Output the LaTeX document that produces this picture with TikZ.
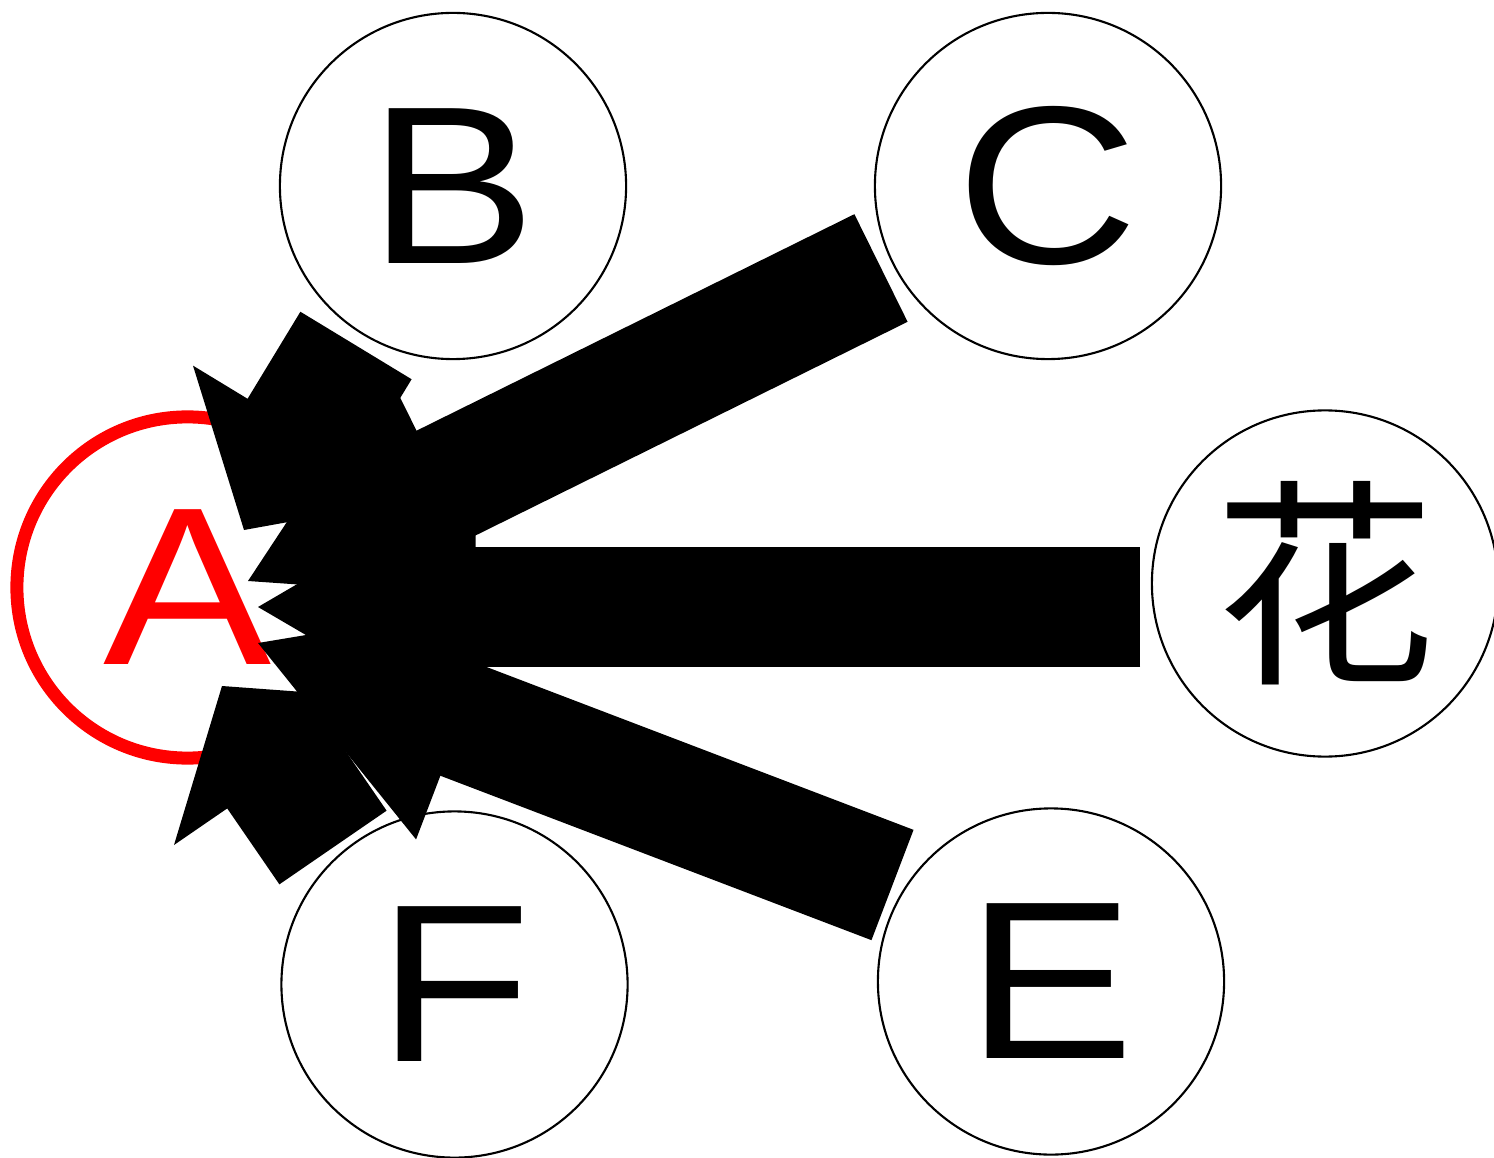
\documentclass[tikz,border=0pt]{standalone}
\usepackage{fontspec}
\usepackage{tikz}
\usetikzlibrary{calc}
\newfontfamily\lblfont[FakeStretch=1.12]{Liberation Sans}
\newfontfamily\cjkfont{Noto Sans CJK SC}
\definecolor{ringred}{RGB}{255,0,0}

\begin{document}
\begin{tikzpicture}[x=0.01cm, y=-0.01cm,
  vertex/.style={circle, draw, line width=0.6pt, minimum size=3.46cm, inner sep=0pt,
    font=\lblfont\fontsize{64}{64}\selectfont},
  shaft/.style={line cap=butt}]
  \useasboundingbox (0,0) rectangle (1494,1158);

  % Nodes
  \node[vertex, draw=ringred, text=ringred, line width=0.13cm, minimum size=3.41cm] (A) at (187.5,587.5) {A};
  \node[vertex] (B) at (453,186) {B};
  \node[vertex] (C) at (1048,186) {C};
  \node[vertex, font=\cjkfont\fontsize{63}{63}\selectfont] (H) at (1325,583.5) {花};
  \node[vertex] (E) at (1051,981.5) {E};
  \node[vertex] (F) at (454.5,984.5) {F};

  % Ends of the connectors
  \coordinate (C-out) at ($(C)+(-167,82)$);
  \coordinate (H-out) at ($(H)+(-185,23.5)$);
  \coordinate (E-out) at ($(E)+(-158.5,-96.5)$);
  \coordinate (B-out) at ($(B)+(-97,159.5)$);
  \coordinate (F-out) at ($(F)+(-121.5,-137)$);
  \coordinate (C-tip) at ($(A)+(60.5,-6.5)$);
  \coordinate (H-tip) at ($(A)+(70.5,19.5)$);
  \coordinate (E-tip) at ($(A)+(70.5,55.5)$);
  \coordinate (B-tip) at ($(A)+(56.5,-57.5)$);
  \coordinate (F-tip) at ($(A)+(34.5,98.5)$);

  % C to A
  \draw[shaft, line width=1.2cm, shorten >=2cm] (C-out) -- (C-tip);
  \fill (C-tip) -- ($(C-tip)!2.52cm!30.3:(C-out)$) -- ($(C-tip)!2.52cm!-30.3:(C-out)$) -- cycle;

  % H to A
  \draw[shaft, line width=1.2cm, shorten >=2cm] (H-out) -- (H-tip);
  \fill (H-tip) -- ($(H-tip)!2.52cm!30.3:(H-out)$) -- ($(H-tip)!2.52cm!-30.3:(H-out)$) -- cycle;

  % E to A
  \draw[shaft, line width=1.18cm, shorten >=2cm] (E-out) -- (E-tip);
  \fill (E-tip) -- ($(E-tip)!2.52cm!30.3:(E-out)$) -- ($(E-tip)!2.52cm!-30.3:(E-out)$) -- cycle;

  % B to A
  \draw[shaft, line width=1.3cm, shorten >=1cm] (B-out) -- (B-tip);
  \fill (B-tip) -- ($(B-tip)!1.72cm!48.5:(B-out)$) -- ($(B-tip)!1.72cm!-48.5:(B-out)$) -- cycle;

  % F to A
  \draw[shaft, line width=1.3cm, shorten >=0.9cm] (F-out) -- (F-tip);
  \fill (F-tip) -- ($(F-tip)!1.66cm!51.3:(F-out)$) -- ($(F-tip)!1.66cm!-51.3:(F-out)$) -- cycle;
\end{tikzpicture}
\end{document}
